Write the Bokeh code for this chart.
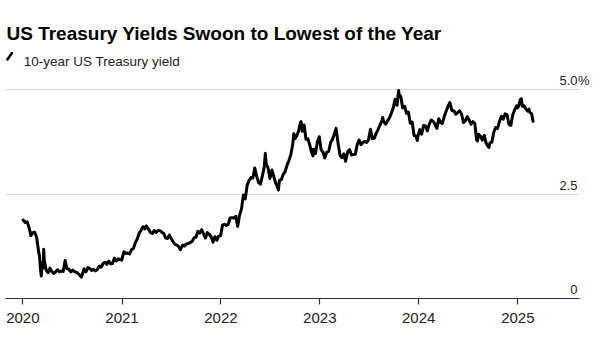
import pandas as pd
from bokeh.plotting import figure
from bokeh.models import Range1d, FixedTicker, DatetimeTickFormatter, Label, Arrow
from bokeh.embed import file_html
from bokeh.resources import INLINE

# ---- data: 10-year US Treasury yield (%) ----
dates_2020 = ["2020-01-02","2020-01-10","2020-01-17","2020-01-24","2020-01-31",
              "2020-02-07","2020-02-14","2020-02-21","2020-02-28",
              "2020-03-03","2020-03-06","2020-03-09","2020-03-12","2020-03-16","2020-03-18","2020-03-20","2020-03-27",
              "2020-04-03","2020-04-10","2020-04-17","2020-04-24",
              "2020-05-01","2020-05-08","2020-05-15","2020-05-22","2020-05-29",
              "2020-06-05","2020-06-12","2020-06-19","2020-06-26",
              "2020-07-03","2020-07-10","2020-07-17","2020-07-24","2020-07-31",
              "2020-08-04","2020-08-14","2020-08-21","2020-08-28",
              "2020-09-04","2020-09-11","2020-09-18","2020-09-25",
              "2020-10-02","2020-10-09","2020-10-16","2020-10-23","2020-10-30",
              "2020-11-06","2020-11-13","2020-11-20","2020-11-27",
              "2020-12-04","2020-12-11","2020-12-18","2020-12-24","2020-12-31"]
yields_2020 = [1.88,1.82,1.84,1.70,1.51,
               1.58,1.59,1.47,1.13,
               1.00,0.71,0.54,0.86,0.73,1.18,0.92,0.68,
               0.62,0.73,0.65,0.60,
               0.64,0.69,0.64,0.66,0.65,
               0.91,0.71,0.70,0.64,
               0.68,0.64,0.63,0.59,0.55,
               0.51,0.71,0.64,0.74,
               0.72,0.67,0.70,0.66,
               0.70,0.78,0.75,0.84,0.87,
               0.82,0.90,0.83,0.84,
               0.97,0.90,0.95,0.94,0.92]

dates_2021 = ["2021-01-08","2021-01-15","2021-01-22","2021-01-29",
              "2021-02-05","2021-02-12","2021-02-19","2021-02-26",
              "2021-03-05","2021-03-12","2021-03-19","2021-03-26","2021-03-31",
              "2021-04-09","2021-04-16","2021-04-23","2021-04-30",
              "2021-05-07","2021-05-14","2021-05-21","2021-05-28",
              "2021-06-04","2021-06-11","2021-06-18","2021-06-25",
              "2021-07-02","2021-07-09","2021-07-16","2021-07-23","2021-07-30",
              "2021-08-04","2021-08-13","2021-08-20","2021-08-27",
              "2021-09-03","2021-09-10","2021-09-17","2021-09-24",
              "2021-10-01","2021-10-08","2021-10-15","2021-10-22","2021-10-29",
              "2021-11-05","2021-11-12","2021-11-19","2021-11-26",
              "2021-12-03","2021-12-10","2021-12-17","2021-12-23","2021-12-31"]
yields_2021 = [1.12,1.08,1.09,1.07,
               1.17,1.20,1.34,1.42,
               1.56,1.63,1.72,1.67,1.74,
               1.66,1.58,1.56,1.63,
               1.58,1.63,1.63,1.59,
               1.56,1.45,1.44,1.52,
               1.43,1.36,1.30,1.28,1.24,
               1.17,1.28,1.26,1.31,
               1.32,1.34,1.37,1.46,
               1.47,1.61,1.57,1.65,1.55,
               1.45,1.58,1.54,1.48,
               1.35,1.48,1.40,1.49,1.51]

dates_2022 = ["2022-01-07","2022-01-14","2022-01-21","2022-01-28",
              "2022-02-04","2022-02-11","2022-02-18","2022-02-25",
              "2022-03-04","2022-03-11","2022-03-18","2022-03-25",
              "2022-04-01","2022-04-08","2022-04-15","2022-04-22","2022-04-29",
              "2022-05-06","2022-05-13","2022-05-20","2022-05-27",
              "2022-06-03","2022-06-10","2022-06-14","2022-06-17","2022-06-24",
              "2022-07-01","2022-07-08","2022-07-15","2022-07-22","2022-07-29",
              "2022-08-01","2022-08-05","2022-08-12","2022-08-19","2022-08-26",
              "2022-09-02","2022-09-09","2022-09-16","2022-09-23","2022-09-27","2022-09-30",
              "2022-10-07","2022-10-14","2022-10-21","2022-10-24","2022-10-28",
              "2022-11-04","2022-11-11","2022-11-18","2022-11-25",
              "2022-12-02","2022-12-07","2022-12-09","2022-12-16","2022-12-23","2022-12-30"]
yields_2022 = [1.76,1.78,1.75,1.78,
               1.93,1.94,1.93,1.97,
               1.73,2.00,2.15,2.48,
               2.39,2.72,2.83,2.90,2.89,
               3.13,2.93,2.78,2.74,
               2.94,3.16,3.48,3.23,3.13,
               2.88,3.08,2.93,2.77,2.67,
               2.60,2.83,2.85,2.98,3.04,
               3.20,3.31,3.45,3.69,3.95,3.83,
               3.89,4.00,4.21,4.24,4.01,
               4.16,3.82,3.83,3.68,
               3.50,3.42,3.58,3.48,3.75,3.88]

dates_2023 = ["2023-01-06","2023-01-13","2023-01-19","2023-01-27",
              "2023-02-03","2023-02-10","2023-02-17","2023-02-24",
              "2023-03-02","2023-03-10","2023-03-17","2023-03-24","2023-03-31",
              "2023-04-06","2023-04-14","2023-04-21","2023-04-28",
              "2023-05-05","2023-05-12","2023-05-19","2023-05-26",
              "2023-06-02","2023-06-09","2023-06-16","2023-06-23","2023-06-30",
              "2023-07-07","2023-07-14","2023-07-21","2023-07-28",
              "2023-08-04","2023-08-11","2023-08-18","2023-08-21","2023-08-25",
              "2023-09-01","2023-09-08","2023-09-15","2023-09-22","2023-09-29",
              "2023-10-06","2023-10-13","2023-10-19","2023-10-20","2023-10-27",
              "2023-11-03","2023-11-10","2023-11-17","2023-11-24",
              "2023-12-01","2023-12-08","2023-12-15","2023-12-22","2023-12-27","2023-12-29"]
yields_2023 = [3.56,3.51,3.37,3.51,
               3.53,3.74,3.82,3.95,
               4.08,3.70,3.43,3.38,3.47,
               3.29,3.52,3.57,3.44,
               3.45,3.46,3.69,3.80,
               3.69,3.74,3.77,3.74,3.81,
               4.06,3.83,3.84,3.96,
               4.05,4.16,4.25,4.34,4.24,
               4.18,4.26,4.33,4.44,4.57,
               4.78,4.63,4.99,4.91,4.84,
               4.57,4.61,4.44,4.47,
               4.20,4.23,3.91,3.90,3.79,3.88]

dates_2024 = ["2024-01-05","2024-01-12","2024-01-19","2024-01-26",
              "2024-02-02","2024-02-09","2024-02-16","2024-02-23",
              "2024-03-01","2024-03-08","2024-03-15","2024-03-22","2024-03-28",
              "2024-04-05","2024-04-12","2024-04-19","2024-04-25","2024-04-26",
              "2024-05-03","2024-05-10","2024-05-17","2024-05-24","2024-05-31",
              "2024-06-07","2024-06-14","2024-06-21","2024-06-28",
              "2024-07-05","2024-07-12","2024-07-19","2024-07-26",
              "2024-08-02","2024-08-05","2024-08-09","2024-08-16","2024-08-23","2024-08-30",
              "2024-09-06","2024-09-13","2024-09-16","2024-09-20","2024-09-27",
              "2024-10-04","2024-10-11","2024-10-18","2024-10-25",
              "2024-11-01","2024-11-08","2024-11-15","2024-11-22","2024-11-29",
              "2024-12-06","2024-12-13","2024-12-20","2024-12-27","2024-12-31"]
yields_2024 = [4.05,3.94,4.15,4.14,
               4.02,4.18,4.28,4.25,
               4.18,4.08,4.31,4.22,4.20,
               4.38,4.50,4.62,4.70,4.67,
               4.50,4.50,4.42,4.46,4.50,
               4.43,4.22,4.26,4.36,
               4.28,4.18,4.24,4.20,
               3.80,3.78,3.94,3.89,3.80,3.91,
               3.72,3.65,3.62,3.73,3.75,
               3.98,4.10,4.08,4.24,
               4.37,4.30,4.43,4.41,4.18,
               4.15,4.40,4.52,4.62,4.57]

dates_2025 = ["2025-01-03","2025-01-10","2025-01-14","2025-01-17","2025-01-24","2025-01-31",
              "2025-02-07","2025-02-11","2025-02-14","2025-02-21","2025-02-26"]
yields_2025 = [4.60,4.77,4.79,4.61,4.62,4.54,
               4.49,4.54,4.47,4.43,4.25]

year_ticks = ["2020-01-01","2021-01-01","2022-01-01","2023-01-01","2024-01-01","2025-01-01"]
ytick_values = [0, 2.5, 5.0]
ytick_labels = ["0", "2.5", "5.0"]

title_text = "US Treasury Yields Swoon to Lowest of the Year"
subtitle_text = "10-year US Treasury yield"

# ---- build ----
dates = pd.to_datetime(dates_2020 + dates_2021 + dates_2022 + dates_2023 + dates_2024 + dates_2025)
yields = yields_2020 + yields_2021 + yields_2022 + yields_2023 + yields_2024 + yields_2025

x_start = pd.Timestamp("2019-10-29")
x_line_end = pd.Timestamp("2025-08-17")   # where axis line and gridlines stop
x_end = pd.Timestamp("2025-11-02")        # frame right edge (room for the % sign)

def ms(t):
    return pd.Timestamp(t).value / 10**6

p = figure(width=600, height=340, x_axis_type="datetime", y_axis_location=None,
           x_range=Range1d(x_start, x_end),
           y_range=Range1d(0, 7.146),
           output_backend="svg", toolbar_location=None,
           min_border_left=5, min_border_right=0, min_border_top=0, min_border_bottom=42)
p.outline_line_color = None
p.background_fill_color = "white"
p.border_fill_color = "white"

p.xgrid.grid_line_color = None
p.ygrid.ticker = FixedTicker(ticks=[v for v in ytick_values if v > 0])
p.ygrid.grid_line_color = "#d6d6d6"
p.ygrid.grid_line_width = 1.2
p.ygrid.cross_bounds = (ms(x_start), ms(x_line_end))

tick_ms = [ms(t) for t in year_ticks]
ax = p.xaxis[0]
ax.ticker = FixedTicker(ticks=tick_ms)
ax.bounds = (ms(x_start), ms(x_line_end))
ax.formatter = DatetimeTickFormatter(years="%Y", months="%Y", days="%Y", hours="%Y",
                                     hourmin="%Y", minutes="%Y", minsec="%Y",
                                     seconds="%Y", milliseconds="%Y", microseconds="%Y")
ax.axis_line_color = "#333333"
ax.axis_line_width = 1.2
ax.major_tick_line_color = "#333333"
ax.major_tick_line_width = 1.2
ax.major_tick_out = 6
ax.major_tick_in = 0
ax.minor_tick_line_color = None
ax.major_label_text_font = "Liberation Sans"
ax.major_label_text_font_size = "15px"
ax.major_label_text_color = "#222222"
ax.major_label_standoff = 8

p.line(x=dates, y=yields, line_color="black", line_width=3, line_join="round", line_cap="round")

# y-value labels above gridlines, right-aligned
for v, t in zip(ytick_values, ytick_labels):
    p.add_layout(Label(x=572, x_units="screen", y=v, y_units="data", y_offset=9,
                       text=t, text_align="right", text_baseline="alphabetic",
                       text_font="Liberation Sans", text_font_size="13px", text_color="#222222"))
p.add_layout(Label(x=572.5, x_units="screen", y=ytick_values[-1], y_units="data", y_offset=9,
                   text="%", text_align="left", text_baseline="alphabetic",
                   text_font="Liberation Sans", text_font_size="13px", text_color="#222222"))

# title and subtitle
p.add_layout(Label(x=1, y=264.7, x_units="screen", y_units="screen", text=title_text,
                   text_font="Liberation Sans", text_font_style="bold", text_font_size="19px",
                   text_baseline="alphabetic", text_color="black"))
p.add_layout(Label(x=18.3, y=237.3, x_units="screen", y_units="screen", text=subtitle_text,
                   text_font="Liberation Sans", text_font_size="13.5px",
                   text_baseline="alphabetic", text_color="#222222"))
p.add_layout(Arrow(start=None, end=None, x_start=1.9, y_start=239.0, x_end=6.5, y_end=245.4,
                   start_units="screen", end_units="screen",
                   line_color="black", line_width=2.6, line_cap="round"))

open("out.html", "w").write(file_html(p, INLINE))
